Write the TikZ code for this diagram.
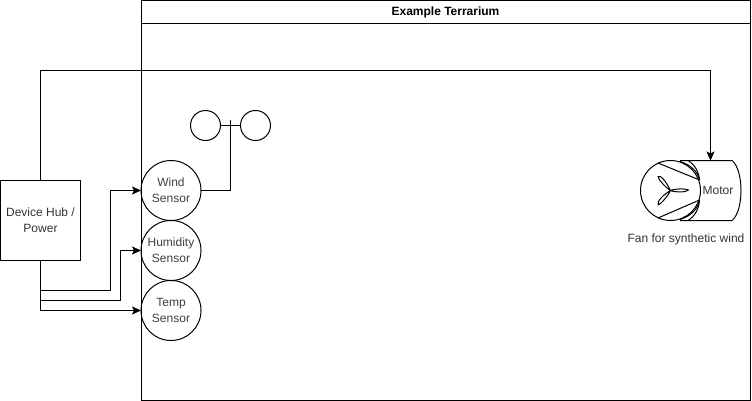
\documentclass[tikz,border=0pt]{standalone}
\usepackage{fontspec}
\setmainfont{Liberation Sans}
\usetikzlibrary{arrows.meta}
\tikzset{
  every node/.style={font=\fontsize{12}{15}\selectfont,text=black!80,align=center,inner sep=0pt,outer sep=0pt},
  sensor/.style={circle,draw,text=black!75,line width=1pt,minimum size=60pt},
  cup/.style={circle,draw,line width=1pt,minimum size=30pt},
  boxnode/.style={rectangle,draw,line width=1pt},
  wire/.style={draw,line width=1pt},
  arrowwire/.style={wire,-{Stealth[length=9pt,width=8pt,inset=2pt]}},
  fanline/.style={draw,line width=1pt,line join=round}
}
\begin{document}
\begin{tikzpicture}[x=1pt,y=-1pt]
\useasboundingbox (0,0) rectangle (752,401);
\fill[white] (0,0) rectangle (752,401);
% terrarium container
\node[boxnode,anchor=north west,minimum width=609pt,minimum height=400pt] (terr) at (141,0.5) {};
\node[boxnode,anchor=north west,minimum width=609pt,minimum height=23pt,font=\fontsize{12}{15}\selectfont\bfseries,text=black] (title) at (141,0.5) {Example Terrarium};
% hub
\node[boxnode,fill=white,anchor=north west,minimum width=80pt,minimum height=80pt] (hub) at (0.5,180.5) {Device Hub /\\[1pt]Power};
% sensors
\node[sensor] (wind) at (171,190.5) {Wind\\[1pt]Sensor};
\node[sensor] (hum) at (171,250.5) {Humidity\\[1pt]Sensor};
\node[sensor] (temp) at (171,310.5) {Temp\\[1pt]Sensor};
% anemometer cups
\node[cup] (cupl) at (205.5,125.5) {};
\node[cup] (cupr) at (255.5,125.5) {};
\coordinate (stemtop) at (230.5,120);
\draw[wire] (cupl) -- (cupr);
\draw[wire] (wind.east) -| (stemtop);
% fan motor
\coordinate (mtop) at (710.5,160.5);
\path[fanline] (680,160.5) -- (732,160.5) .. controls (744,170) and (744,211) .. (732,220.5) -- (680,220.5);
\node[circle,draw,line width=1pt,minimum size=60pt] (fan) at (670.5,190.5) {};
\path[fanline] (680,161.5) .. controls (691,165) and (698,172) .. (699.5,180);
\path[fanline] (688,160.5) .. controls (695,165) and (699,172) .. (699.5,180);
\path[fanline] (680,219.5) .. controls (691,216) and (698,209) .. (699.5,200);
\path[fanline] (688,220.5) .. controls (695,216) and (699,209) .. (699.5,200);
\path[fanline] (658,163) -- (699.5,180);
\path[fanline] (658,218) -- (699.5,200);
\path[fanline] (670.5,190.5) .. controls (665,187) and (658,179) .. (658,176.5) .. controls (660,174.5) and (666,181) .. (670.5,190.5);
\path[fanline] (670.5,190.5) .. controls (675,188.5) and (686,188.5) .. (688.5,190) .. controls (686,192.5) and (675,192.5) .. (670.5,190.5);
\path[fanline] (670.5,190.5) .. controls (668,196) and (661,204) .. (658,205) .. controls (657,201) and (663,195) .. (670.5,190.5);
\node (motor) at (718,190.5) {Motor};
\node (fanlabel) at (686,239) {Fan for synthetic wind};
% connectors
\draw[arrowwire] (hub.north) -- (40.5,70.5) -- (710.5,70.5) -- (mtop);
\draw[arrowwire] (hub.south) -- (40.5,290.5) -- (110.5,290.5) |- (wind.west);
\draw[arrowwire] (40.5,300.5) -- (120.5,300.5) |- (hum.west);
\draw[arrowwire] (40.5,290) -- (40.5,310.5) -- (temp.west);
\end{tikzpicture}
\end{document}
